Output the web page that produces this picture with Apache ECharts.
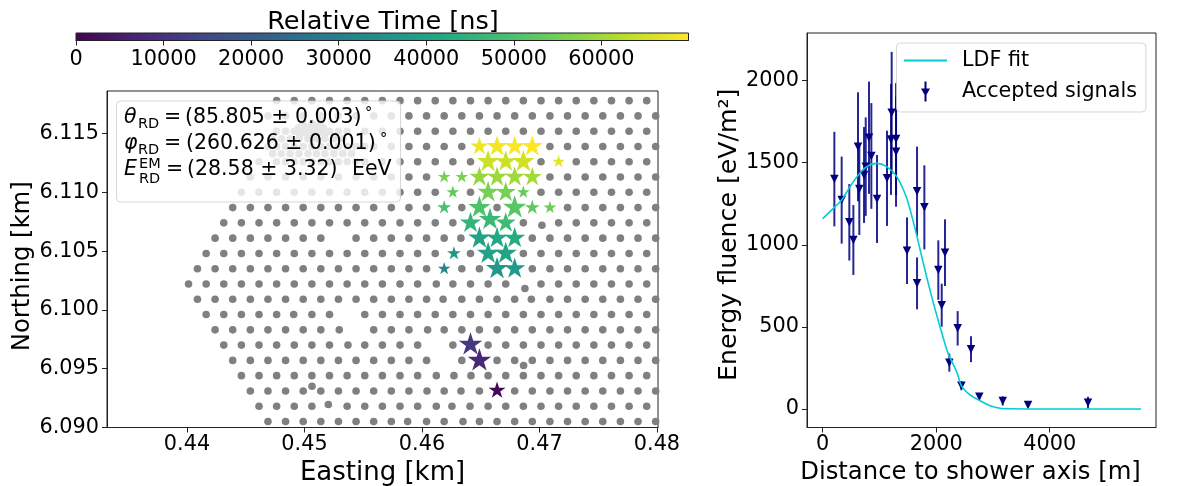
<!DOCTYPE html>
<html><head><meta charset="utf-8">
<script src="https://cdn.jsdelivr.net/npm/echarts@6/dist/echarts.min.js"></script>
<style>html,body{margin:0;padding:0;background:#fff}#c{width:1177px;height:486px}</style>
</head><body><div id="c"></div>
<script>
const FONT = '"DejaVu Sans"';
const viridis = ['#440154','#482475','#414487','#355f8d','#2a788e','#21918c','#22a884','#44bf70','#7ad151','#bddf26','#fde725'];

// Array of stations: [northing, eastings...]
const stationRows = [
 [6.11781,[.44763,.44913,.45063,.45213,.45363,.45513,.45663,.45813,.45963,.46113,.46263,.46413,.46563,.46713,.46863,.47013,.47163,.47313,.47463,.47613,.47763,.47913]],
 [6.11651,[.44689,.44839,.44989,.45139,.45289,.45439,.45589,.45739,.45889,.46039,.46189,.46339,.46489,.46639,.46789,.46939,.47089,.47239,.47389,.47539,.47689,.47839,.47989]],
 [6.11521,[.44763,.44913,.45063,.45213,.45363,.45513,.45663,.45813,.45963,.46113,.46263,.46413,.46563,.46713,.46863,.47013,.47163,.47313,.47463,.47613,.47763,.47913]],
 [6.11391,[.44689,.44839,.44989,.45139,.45289,.45439,.45589,.45739,.45889,.46039,.46189,.46339,.47089,.47239,.47389,.47539,.47689,.47839,.47989]],
 [6.11261,[.44613,.44763,.44913,.45063,.45213,.45363,.45513,.45663,.45813,.45963,.46113,.46263,.46413,.47013,.47313,.47463,.47613,.47763,.47913]],
 [6.11131,[.44539,.44689,.44839,.44989,.45139,.45289,.45439,.45589,.45739,.45889,.46039,.47089,.47239,.47389,.47539,.47689,.47839,.47989]],
 [6.11001,[.44463,.44613,.44763,.44913,.45063,.45213,.45363,.45513,.45663,.45813,.45963,.46113,.46413,.47013,.47163,.47313,.47463,.47613,.47763,.47913]],
 [6.10871,[.44389,.44539,.44689,.44839,.44989,.45139,.45289,.45439,.45589,.45739,.45889,.46039,.46339,.46639,.47239,.47389,.47539,.47689,.47839,.47989]],
 [6.10741,[.44313,.44463,.44613,.44763,.44913,.45063,.45213,.45363,.45513,.45663,.45813,.45963,.46113,.46263,.46863,.47163,.47313,.47463,.47613,.47763,.47913]],
 [6.10611,[.44239,.44389,.44539,.44689,.44839,.44989,.45139,.45439,.45589,.45739,.45889,.46039,.46189,.46331,.46939,.47089,.47239,.47389,.47539,.47689,.47839,.47989]],
 [6.10481,[.44163,.44313,.44463,.44613,.44763,.44913,.45063,.45213,.45363,.45513,.45663,.45813,.45963,.46113,.46413,.46863,.47013,.47163,.47313,.47463,.47613,.47763,.47913]],
 [6.10351,[.44089,.44239,.44389,.44539,.44689,.44839,.44989,.45139,.45289,.45439,.45589,.45739,.45889,.46039,.46339,.46489,.46939,.47089,.47239,.47389,.47539,.47689,.47839,.47989]],
 [6.10221,[.44013,.44163,.44313,.44463,.44613,.44763,.44913,.45063,.45213,.45363,.45513,.45663,.45813,.45963,.46122,.46263,.46413,.46563,.46713,.47013,.47163,.47313,.47463,.47613,.47763,.47913]],
 [6.10091,[.44089,.44239,.44389,.44539,.44689,.44839,.44989,.45139,.45289,.45439,.45589,.45739,.45889,.46039,.46180,.46339,.46489,.46639,.46789,.46931,.47089,.47239,.47389,.47539,.47689,.47839,.47989]],
 [6.09961,[.44163,.44313,.44463,.44613,.44763,.44908,.45063,.45213,.45513,.45663,.45813,.45963,.46113,.46263,.46413,.46563,.46713,.46863,.47013,.47163,.47313,.47463,.47613,.47763,.47913]],
 [6.09831,[.44239,.44389,.44539,.44689,.44839,.44989,.45139,.45296,.45589,.45739,.45889,.46048,.46189,.46339,.46489,.46639,.46789,.46939,.47089,.47239,.47389,.47539,.47689,.47839,.47989]],
 [6.09701,[.44313,.44463,.44613,.44763,.44913,.45063,.45213,.45370,.45513,.45663,.45813,.45963,.46263,.46563,.46713,.46863,.47013,.47163,.47313,.47463,.47613,.47763,.47913]],
 [6.09571,[.44389,.44539,.44689,.44839,.44989,.45139,.45289,.45439,.45589,.45739,.45889,.46039,.46339,.46639,.46789,.46939,.47089,.47239,.47389,.47539,.47689,.47839,.47989]],
 [6.09441,[.44463,.44613,.44763,.44913,.45063,.45213,.45363,.45513,.45663,.45813,.45963,.46122,.46272,.46417,.46563,.46713,.46863,.47013,.47163,.47313,.47463,.47613,.47763,.47913]],
 [6.09311,[.44539,.44689,.44839,.44989,.45139,.45289,.45439,.45589,.45739,.45889,.46043,.46189,.46332,.46489,.46789,.46939,.47089,.47239,.47389,.47539,.47689,.47839,.47989]],
 [6.09181,[.44613,.44763,.44913,.45063,.45363,.45513,.45663,.45813,.45963,.46122,.46255,.46409,.46563,.46713,.46863,.47013,.47163,.47313,.47463,.47613,.47763,.47913]],
 [6.09051,[.44689,.44839,.44989,.45139,.45289,.45439,.45589,.45739,.45878,.46039,.46189,.46349,.46489,.46639,.46789,.46939,.47089,.47239,.47389,.47539,.47689,.47839,.47989]]
];
// Stations sitting off the regular rows and the dense infill
const extraStations = [[.46876,6.10182],[.45064,6.09351],[.46865,6.09527],[.45203,6.09196],[.47021,6.10721],
 [.44839,6.11521],[.44989,6.11521],[.45139,6.11521],[.45289,6.11521],
 [.44729,6.11456],[.44803,6.11456],[.44877,6.11456],[.44953,6.11456],[.4503,6.11456],[.45102,6.11456],[.45174,6.11456],[.45251,6.11456],[.45326,6.11456],
 [.44763,6.11391],[.44913,6.11391],[.45063,6.11391],[.45213,6.11391],[.45363,6.11391],[.45513,6.11391],
 [.44729,6.1133],[.44803,6.1133],[.44877,6.1133],[.44953,6.1133],[.4503,6.1133],[.45102,6.1133],[.45174,6.1133],[.45251,6.1133],[.45326,6.1133],[.45401,6.1133],
 [.44839,6.11261],[.44989,6.11261],[.45139,6.11261],[.45289,6.11261],[.45439,6.11261],
 [.44987,6.11585],[.45063,6.11585],[.45134,6.11585],[.4495,6.1155],[.4502,6.1155],[.4509,6.1155],[.4516,6.1155],[.44962,6.1149],[.4503,6.1149],[.451,6.1149],[.4517,6.1149]];

// Triggered stations
const starE = [.46489,.46639,.46789,.46939,.46563,.46713,.46863,.47163,.46189,.46339,.46489,.46639,.46789,.46939,.46263,.46563,.46713,.46863,.46189,.46489,.46789,.46939,.47089,.46413,.46579,.46713,.46489,.46639,.46789,.46272,.46563,.46713,.46189,.46639,.46789,.46413,.46489,.46639];
const starN = [6.11391,6.11391,6.11391,6.11391,6.11261,6.11261,6.11261,6.11261,6.11131,6.11131,6.11131,6.11131,6.11131,6.11131,6.11001,6.11001,6.11001,6.11001,6.10871,6.10871,6.10871,6.10871,6.10871,6.10741,6.10769,6.10741,6.10611,6.10611,6.10611,6.10481,6.10481,6.10481,6.10351,6.10351,6.10351,6.09706,6.0957,6.09315];
const starTime = [68500,69000,69500,69900,64500,64500,65000,67000,55500,56000,59000,59500,60000,60500,53000,55500,55500,53500,49500,50000,51500,52500,54000,45500,47000,47500,40500,42000,43000,36500,40000,40500,31500,37000,38000,11500,8000,1000];
const starWeight = [17,20,19,20,21,20,21,12,12,12,19,19,19,18,12,20,19,12,13,21,22,14,12,20,21,19,21,20,20,13,21,21,12,21,20,22,22,16];

// Energy fluence
const sigDist = [205,334,469,540,622,645,728,758,816,857,957,1133,1215,1203,1292,1292,1662,1791,1485,1662,2037,2155,2097,2378,2613,2231,2443,2760,3172,3618,4675];
const sigVal  = [1400,1272,1137,1029,1597,1340,1425,1476,1652,1541,1279,1405,1804,1642,1644,1567,1326,1228,964,765,846,952,632,491,364,282,142,75,49,24,38];
const sigErr  = [288,265,233,213,332,280,292,300,342,322,268,290,371,338,341,335,272,256,203,158,181,203,131,105,79,55,28,18,28,12,36];
const fitDist = [0,187,334,481,628,775,951,1127,1304,1480,1626,1773,1920,2067,2208,2361,2443,2596,2772,2948,3124,3300,3600,4200,5610];
const fitVal  = [1159,1222,1273,1354,1425,1476,1496,1476,1415,1283,1100,887,684,501,339,227,142,85,50,20,4,1,0,0,0];

// Tick labels
const eastTicks = [0.44,0.45,0.46,0.47,0.48];
const northTicks = [6.09,6.095,6.1,6.105,6.11,6.115];
const cbTicks = [0,10000,20000,30000,40000,50000,60000];
const distTicks = [0,2000,4000];
const fluTicks = [0,500,1000,1500,2000];

const stations = stationRows.flatMap(([n, es]) => es.map(e => [e, n])).concat(extraStations);
const starPts = starE.map((e, i) => [e, starN[i], starTime[i], starWeight[i]]);
const signals = sigDist.map((d, i) => [d, sigVal[i]]);
const signalErrs = sigDist.map((d, i) => [d, sigVal[i] - sigErr[i], sigVal[i] + sigErr[i]]);
const fit = fitDist.map((d, i) => [d, fitVal[i]]);

const STAR = 'path://M0,0L0,0ZM100,100L100,100ZM50,0L61.23,34.55L97.55,34.55L68.16,55.9L79.39,90.45L50,69.1L20.61,90.45L31.84,55.9L2.45,34.55L38.77,34.55Z';
const TRI = 'path://M0,0L10,0L5,10Z';
const TICK = 20.8;
const frame = {show:true, borderColor:'#222', borderWidth:1, backgroundColor:'transparent', outerBoundsMode:'none'};
const axisCommon = (ticks, fmt, margin, padding) => ({
  type:'value', splitLine:{show:false},
  axisLine:{show:true, onZero:false, lineStyle:{color:'#222', width:1}},
  axisTick:{show:true, length:5, lineStyle:{color:'#222', width:1}, customValues:ticks},
  axisLabel:{show:true, color:'#000', fontFamily:FONT, fontSize:TICK, margin:margin, padding:padding||0, customValues:ticks, formatter:fmt, hideOverlap:false, showMinLabel:true, showMaxLabel:true},
  nameLocation:'middle'
});
const nameStyle = (fontSize, padding) => ({color:'#000', fontFamily:FONT, fontSize, padding});

const math = (text, x, y, size, italic) => ({
  type:'text', x, y, z:101, silent:true,
  style:{text, x:0, y:0, fill:'#000', font:(italic?'italic ':'')+size+'px '+FONT, textVerticalAlign:'middle'}
});
const panel = [
  {type:'rect', z:100, silent:true, shape:{x:116.5,y:101,width:284,height:101,r:4}, style:{fill:'rgba(255,255,255,0.8)', stroke:'rgba(204,204,204,0.8)', lineWidth:1}},
  math('θ',124,118,20.5,true), math('RD',138,124,14.5), math('=',164,118,20.5), math('(85.805 ± 0.003)',185,118,20.5), math('°',365,113,14.5),
  math('φ',124,144,20.5,true), math('RD',138,150,14.5), math('=',164,144,20.5), math('(260.626 ± 0.001)',186,144,20.5), math('°',380,139,14.5),
  math('E',124,170,20.5,true), math('EM',139,164,14.5), math('RD',139,179,14.5), math('=',166,170,20.5), math('(28.58 ± 3.32)',187,170,20.5), math('EeV',352,170,20.5)
];

const chart = echarts.init(document.getElementById('c'), null, {renderer:'canvas'});
chart.setOption({
  animation:false, backgroundColor:'#fff',
  title:{text:'Relative Time [ns]', left:378, top:4, textAlign:'center', textStyle:{fontFamily:FONT, fontSize:25.6, fontWeight:'normal', color:'#000'}},
  grid:[
    {left:107, top:91, width:551, height:336.5, ...frame},
    {left:807, top:33, width:349, height:394.5, ...frame},
    {left:76, top:33, width:612.5, height:7.5, show:true, borderColor:'#222', borderWidth:1, outerBoundsMode:'none',
     backgroundColor:{type:'linear',x:0,y:0,x2:1,y2:0,colorStops:viridis.map((c,i)=>({offset:i/(viridis.length-1),color:c}))}}
  ],
  xAxis:[
    {gridIndex:0, min:0.43319, max:0.48009, name:'Easting [km]', nameGap:31, nameTextStyle:nameStyle(26), ...axisCommon(eastTicks, v=>(+v).toFixed(2), 7)},
    {gridIndex:1, min:-277, max:5873, name:'Distance to shower axis [m]', nameGap:31, nameTextStyle:nameStyle(24.3,[0,22,0,0]), ...axisCommon(distTicks, v=>String(Math.round(v)), 7)},
    {gridIndex:2, min:0, max:69950, ...axisCommon(cbTicks, v=>String(Math.round(v)), 8.5)}
  ],
  yAxis:[
    {gridIndex:0, min:6.09, max:6.11863, name:'Northing [km]', nameGap:72, nameTextStyle:nameStyle(24.3,[0,14,0,0]), ...axisCommon(northTicks, v=>(+v).toFixed(3), 8, [3,0,0,0])},
    {gridIndex:1, min:-113, max:2290, name:'Energy fluence [eV/m²]', nameGap:65, nameTextStyle:nameStyle(25.2,[0,9,0,0]), ...axisCommon(fluTicks, v=>String(Math.round(v)), 8, [3,0,0,0])},
    {gridIndex:2, min:0, max:1, show:false}
  ],
  visualMap:{show:false, seriesIndex:1, dimension:2, min:0, max:69950, inRange:{color:viridis}},
  legend:{show:true, left:896.5, top:43, orient:'vertical', padding:[7,9,10,7.5], itemWidth:43, itemHeight:20, itemGap:10,
    backgroundColor:'rgba(255,255,255,0.8)', borderColor:'rgba(204,204,204,0.8)', borderWidth:1, borderRadius:4,
    textStyle:{fontFamily:FONT, fontSize:20.7, color:'#000', padding:[0,0,0,10]},
    data:[{name:'LDF fit', icon:'path://M0,0H43V2H0Z'},{name:'Accepted signals', icon:'path://M9,0H11V7H14.5L10,15L5.5,7H9ZM9,13H11V20H9Z'}]},
  graphic:panel,
  series:[
    {type:'scatter', xAxisIndex:0, yAxisIndex:0, symbol:'circle', symbolSize:7.6, itemStyle:{color:'#808080', opacity:1}, data:stations, z:2, silent:true},
    {type:'scatter', xAxisIndex:0, yAxisIndex:0, symbol:STAR, symbolSize:v=>v[3]*1.12, itemStyle:{opacity:1}, data:starPts, z:3, silent:true, symbolKeepAspect:true},
    {type:'custom', name:'errors', xAxisIndex:1, yAxisIndex:1, z:2, silent:true, data:signalErrs,
      encode:{x:0, y:[1,2]},
      renderItem:(p, api) => {
        const a = api.coord([api.value(0), api.value(1)]), b = api.coord([api.value(0), api.value(2)]);
        return {type:'line', shape:{x1:a[0], y1:a[1], x2:b[0], y2:b[1]}, style:{stroke:'#000080', lineWidth:2, opacity:0.85, fill:null}};
      }},
    {type:'scatter', name:'Accepted signals', xAxisIndex:1, yAxisIndex:1, symbol:TRI, symbolSize:[8.5,8.5], itemStyle:{color:'#000080', opacity:1}, data:signals, z:3, silent:true},
    {type:'line', name:'LDF fit', xAxisIndex:1, yAxisIndex:1, data:fit, smooth:0.25, showSymbol:false, symbol:'none', lineStyle:{color:'#00ced1', width:1.6}, itemStyle:{color:'#00ced1'}, z:4, silent:true}
  ]
});
</script></body></html>
